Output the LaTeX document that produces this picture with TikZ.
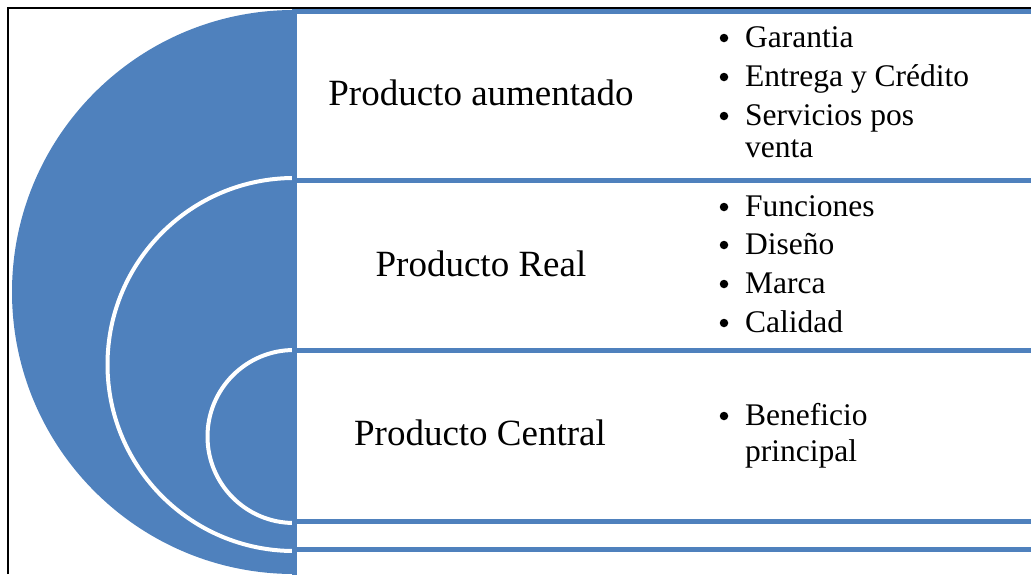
\documentclass[tikz,border=0pt]{standalone}
\usepackage{fontspec}
\setmainfont{Liberation Serif}
\definecolor{acc}{HTML}{4F81BD}
\begin{document}
\begin{tikzpicture}[x=1pt,y=-1pt,
  title/.style={font=\fontsize{37}{44}\selectfont, anchor=base, inner sep=0pt},
  item/.style={font=\fontsize{31.5}{38}\selectfont, anchor=base west, inner sep=0pt},
  bul/.style={circle, fill=black, inner sep=0pt, minimum size=8.5pt},
  ring/.style={fill=acc, draw=white, line width=4pt},
  tier/.style={fill=white, draw=acc, line width=5pt}]
\useasboundingbox (0,0) rectangle (1031,574);
\clip (0,0) rectangle (1031,574);
% nested half circles
\begin{scope}
  \clip (0,0) rectangle (294,574);
  \fill[acc] (294,292) circle[radius=282];
  \draw[ring] (294,364.5) circle[radius=186.5];
  \draw[ring] (294,436.5) circle[radius=86.5];
\end{scope}
% nested boxes
\draw[tier] (294,11) rectangle (1045,600);
\draw[tier] (294,180) rectangle (1045,549);
\draw[tier] (294,350) rectangle (1045,521);
% frame
\draw[black, line width=2pt] (8,574) -- (8,8) -- (1031,8);
% titles
\node[title] (t1) at (481,105) {Producto aumentado};
\node[title] (t2) at (481,276) {Producto Real};
\node[title] (t3) at (480,445) {Producto Central};
% bullets group 1
\node[bul] (b11) at (724,38) {};
\node[item] (i11) at (745,47) {Garantia};
\node[bul] (b12) at (724,77) {};
\node[item] (i12) at (745,86) {Entrega y Crédito};
\node[bul] (b13) at (724,116) {};
\node[item] (i13) at (745,125) {Servicios pos};
\node[item] (i14) at (745,157) {venta};
% bullets group 2
\node[bul] (b21) at (724,207) {};
\node[item] (i21) at (745,216) {Funciones};
\node[bul] (b22) at (724,245) {};
\node[item] (i22) at (745,254) {Diseño};
\node[bul] (b23) at (724,284) {};
\node[item] (i23) at (745,293) {Marca};
\node[bul] (b24) at (724,323) {};
\node[item] (i24) at (745,332) {Calidad};
% bullets group 3
\node[bul] (b31) at (724,416) {};
\node[item] (i31) at (745,425) {Beneficio};
\node[item] (i32) at (745,461) {principal};
\end{tikzpicture}
\end{document}
